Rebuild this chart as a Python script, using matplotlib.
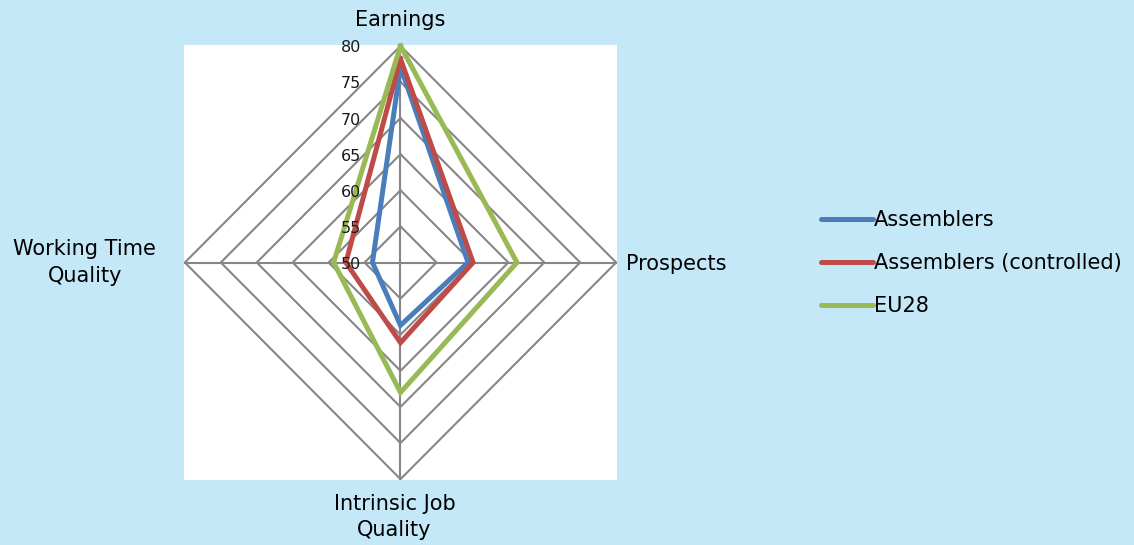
import numpy as np
import matplotlib.pyplot as plt
from matplotlib.lines import Line2D

# dados
eixos = ['Earnings', 'Prospects', 'Intrinsic Job\nQuality', 'Working Time\nQuality']
assemblers = [77.1, 59.4, 58.7, 53.9]
assemblers_ctrl = [78.2, 60.1, 61.1, 57.6]
eu28 = [80.0, 66.2, 68.0, 59.3]
series = ['Assemblers', 'Assemblers (controlled)', 'EU28']
cores = ['#4A7EBB', '#BE4B48', '#98B954']
ticks = [50, 55, 60, 65, 70, 75, 80]

r_min, r_max = 50, 80
# ângulos: topo, direita, baixo, esquerda
ang = np.deg2rad([90, 0, -90, 180])


def xy(vals):
    r = np.array(vals) - r_min
    x = r * np.cos(ang)
    y = r * np.sin(ang)
    return np.append(x, x[0]), np.append(y, y[0])


fundo = '#C5E8F8'
fig = plt.figure(figsize=(11.34, 5.45), dpi=100, facecolor=fundo)
ax = fig.add_axes([184 / 1134, 65 / 545, 433 / 1134, 435 / 545])
ax.set_facecolor('white')
lim = (r_max - r_min) * 1.004
ax.set_xlim(-lim, lim)
ax.set_ylim(-lim, lim)
ax.set_xticks([])
ax.set_yticks([])
for s in ax.spines.values():
    s.set_visible(False)

cinza = '#868686'
for t in ticks[1:]:
    gx, gy = xy([t] * 4)
    ax.plot(gx, gy, color=cinza, lw=1.5, clip_on=False, zorder=1)
for a in ang:
    ax.plot([0, (r_max - r_min) * np.cos(a)], [0, (r_max - r_min) * np.sin(a)],
            color=cinza, lw=1.5, clip_on=False, zorder=1)

for nome, vals, c in zip(series, [assemblers, assemblers_ctrl, eu28], cores):
    sx, sy = xy(vals)
    ax.plot(sx, sy, color=c, lw=3.6, solid_joinstyle='miter', clip_on=False, zorder=3)

# rótulos do eixo radial
for t in ticks:
    ax.annotate(str(t), (0, t - r_min), xytext=(-39, -2), textcoords='offset pixels',
                ha='right', va='center', fontsize=11.5, color='#1a1a1a', annotation_clip=False)

fs = 15
ax.annotate(eixos[0], (0, r_max - r_min), xytext=(0, 26), textcoords='offset pixels',
            ha='center', va='center', fontsize=fs, annotation_clip=False)
ax.annotate(eixos[1], (r_max - r_min, 0), xytext=(10, -1), textcoords='offset pixels',
            ha='left', va='center', fontsize=fs, annotation_clip=False)
ax.annotate(eixos[2], (0, -(r_max - r_min)), xytext=(-6, -38), textcoords='offset pixels',
            ha='center', va='center', fontsize=fs, linespacing=1.4, annotation_clip=False)
ax.annotate(eixos[3], (-(r_max - r_min), 0), xytext=(-100, 0), textcoords='offset pixels',
            ha='center', va='center', fontsize=fs, linespacing=1.4, annotation_clip=False)

handles = [Line2D([], [], color=c, lw=3.6, solid_capstyle='round') for c in cores]
fig.legend(handles, series, loc='center left', bbox_to_anchor=(802 / 1134, 1 - 263 / 545),
           frameon=False, fontsize=fs, handlelength=2.5, handletextpad=0.05,
           labelspacing=1.1)

plt.savefig('out.png', facecolor=fundo)
